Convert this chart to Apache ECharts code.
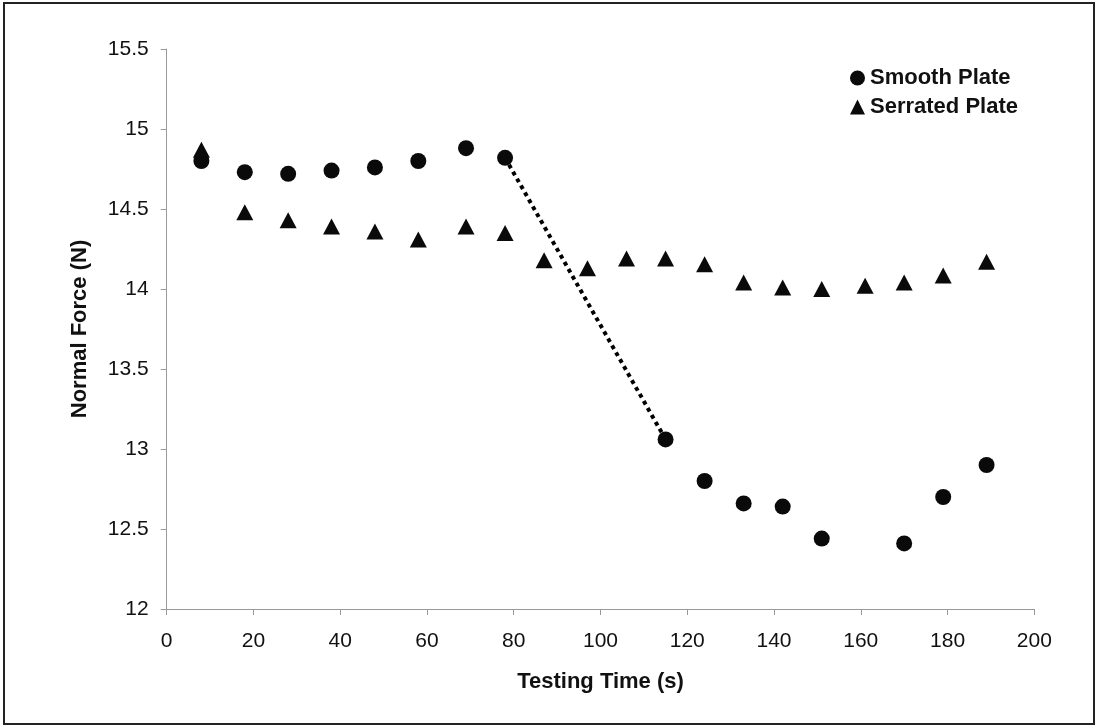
<!DOCTYPE html>
<html>
<head>
<meta charset="utf-8">
<script src="https://cdn.jsdelivr.net/npm/echarts@6/dist/echarts.min.js"></script>
<style>
html,body{margin:0;padding:0;background:#fff;}
#chart{width:1097px;height:728px;}
</style>
</head>
<body>
<div id="chart"></div>
<script>
// Data
var smoothTime = [8, 18, 28, 38, 48, 58, 69, 78, 115, 124, 133, 142, 151, 170, 179, 189];
var smoothForce = [14.80, 14.73, 14.72, 14.74, 14.76, 14.80, 14.88, 14.82, 13.06, 12.80, 12.66, 12.64, 12.44, 12.41, 12.70, 12.90];
var serratedTime = [8, 18, 28, 38, 48, 58, 69, 78, 87, 97, 106, 115, 124, 133, 142, 151, 161, 170, 179, 189];
var serratedForce = [14.87, 14.48, 14.43, 14.39, 14.36, 14.31, 14.39, 14.35, 14.18, 14.13, 14.19, 14.19, 14.155, 14.04, 14.01, 14.00, 14.02, 14.04, 14.085, 14.17];
var dropTime = [78, 115];
var dropForce = [14.82, 13.06];
var seriesNames = ['Smooth Plate', 'Serrated Plate'];
var xTitle = 'Testing Time (s)';
var yTitle = 'Normal Force (N)';

function pairs(xs, ys) { return xs.map(function (x, i) { return [x, ys[i]]; }); }

var FONT = '"Liberation Sans", Arial, sans-serif';
var chart = echarts.init(document.getElementById('chart'));
chart.setOption({
  backgroundColor: '#ffffff',
  animation: false,
  graphic: [{
    type: 'rect',
    shape: { x: 4, y: 3, width: 1090, height: 721 },
    style: { fill: 'none', stroke: '#222', lineWidth: 2 },
    silent: true
  }],
  grid: { left: 166.7, right: 62.7, top: 49, bottom: 119, containLabel: false },
  legend: {
    orient: 'vertical',
    left: 845,
    top: 62,
    itemWidth: 15,
    itemHeight: 15,
    itemGap: 7,
    data: seriesNames,
    itemStyle: { opacity: 1 },
    textStyle: { fontFamily: FONT, fontSize: 22, fontWeight: 'bold', color: '#111', lineHeight: 22 }
  },
  xAxis: {
    type: 'value',
    min: 0, max: 200, interval: 20,
    name: xTitle,
    nameLocation: 'middle',
    nameGap: 62,
    nameTextStyle: { fontFamily: FONT, fontSize: 22, fontWeight: 'bold', color: '#111' },
    axisLine: { show: true, lineStyle: { color: '#999', width: 1 } },
    axisTick: { show: true, length: 6, lineStyle: { color: '#999' } },
    axisLabel: { fontFamily: FONT, fontSize: 21, color: '#111', margin: 22 },
    splitLine: { show: false }
  },
  yAxis: {
    type: 'value',
    min: 12, max: 15.5, interval: 0.5,
    name: yTitle,
    nameLocation: 'middle',
    nameGap: 76,
    nameTextStyle: { fontFamily: FONT, fontSize: 22, fontWeight: 'bold', color: '#111' },
    axisLine: { show: true, lineStyle: { color: '#999', width: 1 } },
    axisTick: { show: true, length: 6, lineStyle: { color: '#999' } },
    axisLabel: { fontFamily: FONT, fontSize: 21, color: '#111', margin: 18 },
    splitLine: { show: false }
  },
  series: [
    {
      name: 'drop',
      type: 'line',
      data: pairs(dropTime, dropForce),
      symbol: 'none',
      lineStyle: { color: '#000', width: 4, type: 'dotted', opacity: 1 },
      z: 1,
      silent: true
    },
    {
      name: seriesNames[0],
      type: 'scatter',
      data: pairs(smoothTime, smoothForce),
      symbol: 'circle',
      symbolSize: 16,
      itemStyle: { color: '#0a0a0a', opacity: 1 },
      z: 2
    },
    {
      name: seriesNames[1],
      type: 'scatter',
      data: pairs(serratedTime, serratedForce),
      symbol: 'triangle',
      symbolSize: [17, 16],
      itemStyle: { color: '#0a0a0a', opacity: 1 },
      z: 3
    }
  ]
});
</script>
</body>
</html>
